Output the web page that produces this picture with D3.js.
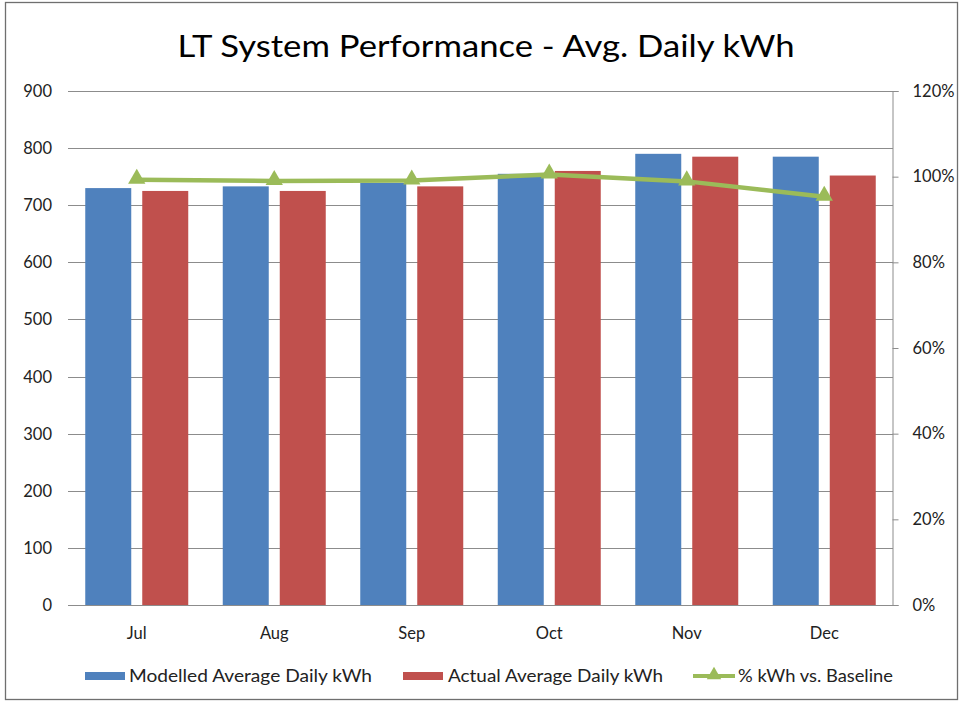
<!DOCTYPE html>
<html><head><meta charset="utf-8">
<script src="https://cdn.jsdelivr.net/npm/d3@7"></script>
<style>body{margin:0;background:#fff}svg{display:block}</style>
</head><body>
<script>
const categories = ["Jul","Aug","Sep","Oct","Nov","Dec"];
const modelled = [730, 733, 739, 755, 790, 785];
const actual = [725, 725, 733, 760, 785, 752];
const pctBaseline = [0.993, 0.990, 0.991, 1.005, 0.989, 0.953];
const leftTicks = [0,100,200,300,400,500,600,700,800,900];
const rightTicks = [0,0.2,0.4,0.6,0.8,1.0,1.2];
const seriesNames = ["Modelled Average Daily kWh","Actual Average Daily kWh","% kWh vs. Baseline"];
const colors = ["#4F81BD","#C0504D","#9BBB59"];

const W = 962, H = 705;
const m = {l:68, r:893, t:91, b:605};
const svg = d3.select("body").append("svg").attr("width",W).attr("height",H);
const font = "Lato, 'Open Sans', sans-serif";
const fs = 16.5;

svg.append("rect").attr("x",5.5).attr("y",2.5).attr("width",952).attr("height",697)
  .attr("fill","#fff").attr("stroke","#6f6f6f").attr("stroke-width",1.3);

svg.append("text").attr("x",486).attr("y",57).attr("text-anchor","middle")
  .attr("font-family",font).attr("font-size",30).attr("fill","#000")
  .attr("textLength",617).attr("lengthAdjust","spacingAndGlyphs")
  .text("LT System Performance - Avg. Daily kWh");

const x = d3.scaleBand().domain(categories).range([m.l,m.r]);
const y = d3.scaleLinear().domain([0,900]).range([m.b,m.t]);
const y2 = d3.scaleLinear().domain([0,1.2]).range([m.b,m.t]);

// gridlines
svg.append("g").selectAll("line").data(leftTicks).join("line")
  .attr("x1",m.l).attr("x2",m.r).attr("y1",d=>Math.round(y(d))+0.5).attr("y2",d=>Math.round(y(d))+0.5)
  .attr("stroke","#8c8c8c").attr("stroke-width",1);

// left labels
svg.append("g").selectAll("text").data(leftTicks).join("text")
  .attr("x",52).attr("y",d=>y(d)+6).attr("text-anchor","end")
  .attr("font-family",font).attr("font-size",fs).attr("fill","#222").text(d=>d);

// right axis
const ra = svg.append("g").attr("transform",`translate(${m.r-0.5},0)`)
  .call(d3.axisRight(y2).tickValues(rightTicks).tickSize(6).tickPadding(14).tickFormat(d3.format(".0%")));
ra.select(".domain").attr("stroke","#8c8c8c");
ra.selectAll(".tick line").attr("stroke","#8c8c8c");
ra.selectAll(".tick text").attr("font-family",font).attr("font-size",fs).attr("fill","#222");

// bottom axis line
svg.append("line").attr("x1",m.l).attr("x2",m.r).attr("y1",m.b+0.5).attr("y2",m.b+0.5).attr("stroke","#8c8c8c");

// bars
const bw = 46, gap = 11;
const g = svg.append("g");
g.selectAll(".bm").data(categories).join("rect")
  .attr("x",(d)=>x(d)+x.bandwidth()/2 - gap/2 - bw).attr("width",bw)
  .attr("y",(d,i)=>y(modelled[i])).attr("height",(d,i)=>y(0)-y(modelled[i]))
  .attr("fill",colors[0]);
g.selectAll(".ba").data(categories).join("rect")
  .attr("x",(d)=>x(d)+x.bandwidth()/2 + gap/2).attr("width",bw)
  .attr("y",(d,i)=>y(actual[i])).attr("height",(d,i)=>y(0)-y(actual[i]))
  .attr("fill",colors[1]);

// category labels
svg.append("g").selectAll("text").data(categories).join("text")
  .attr("x",d=>x(d)+x.bandwidth()/2).attr("y",639).attr("text-anchor","middle")
  .attr("font-family",font).attr("font-size",fs).attr("fill","#222").text(d=>d);

// line
const line = d3.line().x((d,i)=>x(categories[i])+x.bandwidth()/2).y(d=>y2(d));
svg.append("path").datum(pctBaseline).attr("d",line).attr("fill","none")
  .attr("stroke",colors[2]).attr("stroke-width",4.5).attr("stroke-linejoin","round");
const tri = d3.symbol().type(d3.symbolTriangle).size(130);
svg.append("g").selectAll("path").data(pctBaseline).join("path")
  .attr("transform",(d,i)=>`translate(${x(categories[i])+x.bandwidth()/2},${y2(d)-1})`)
  .attr("d",tri).attr("fill",colors[2]);

// legend
const ly = 676;
const leg = svg.append("g").attr("font-family",font).attr("font-size",fs).attr("fill","#222");
leg.append("rect").attr("x",85).attr("y",ly-4).attr("width",40).attr("height",8).attr("fill",colors[0]);
leg.append("text").attr("x",129).attr("y",ly+6).attr("textLength",243).attr("lengthAdjust","spacingAndGlyphs").text(seriesNames[0]);
leg.append("rect").attr("x",403).attr("y",ly-4).attr("width",40).attr("height",8).attr("fill",colors[1]);
leg.append("text").attr("x",448).attr("y",ly+6).attr("textLength",215).attr("lengthAdjust","spacingAndGlyphs").text(seriesNames[1]);
leg.append("line").attr("x1",693).attr("x2",735).attr("y1",ly).attr("y2",ly).attr("stroke",colors[2]).attr("stroke-width",4);
leg.append("path").attr("transform",`translate(714,${ly-1})`).attr("d",d3.symbol().type(d3.symbolTriangle).size(90)).attr("fill",colors[2]);
leg.append("text").attr("x",738).attr("y",ly+6).attr("textLength",155).attr("lengthAdjust","spacingAndGlyphs").text(seriesNames[2]);
</script>
</body></html>
